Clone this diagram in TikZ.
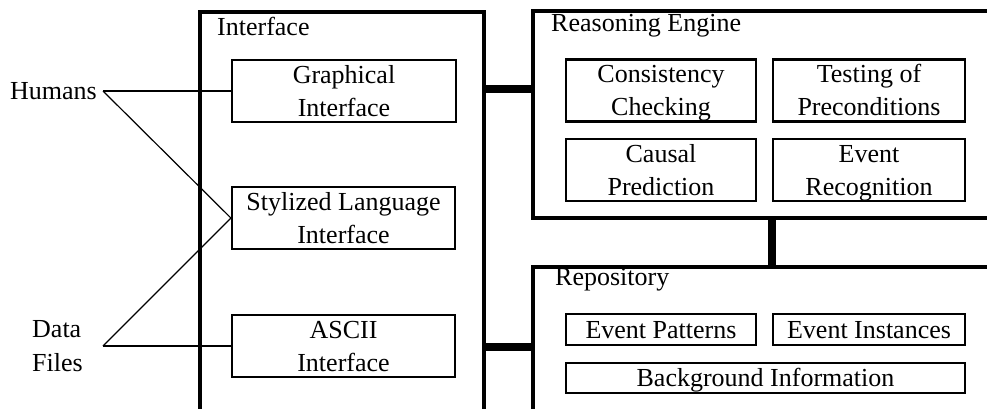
\documentclass[tikz,border=0pt]{standalone}
\usepackage{fontspec}
\setmainfont{Liberation Serif}
\newcommand{\lbl}{\fontsize{26}{33}\selectfont}
% struts that fix each line's height and depth inside the module boxes
\newcommand{\ls}{\rule[-6pt]{0pt}{29pt}}
\newcommand{\lsone}{\rule[-4.4pt]{0pt}{26.4pt}}
\begin{document}
\begin{tikzpicture}[x=1pt,y=-1pt,
  bigbox/.style={draw, line width=4.5pt, inner sep=0pt},
  inbox/.style={draw, line width=2.2pt, inner sep=0pt, align=center, font=\lbl},
  title/.style={anchor=base west, inner sep=0pt, font=\lbl},
  bar/.style={line width=8pt},
  link/.style={line width=2pt},
  slant/.style={line width=1.2pt}]
\clip (0,0) rectangle (987,408);
\fill[white] (0,0) rectangle (987,408);

% outer frames (they run past the right and lower edges)
\node[bigbox, minimum width=284, minimum height=420] (iface) at (342,222) {};
\node[bigbox, minimum width=480, minimum height=207] (reason) at (773,114.5) {};
\node[bigbox, minimum width=480, minimum height=180] (repo) at (773,357) {};

\node[title] at (217,35) {Interface};
\node[title] at (551,31) {Reasoning Engine};
\node[title] at (555,285) {Repository};

% interface modules
\node[inbox, minimum width=224, minimum height=62] (gi) at (344,91) {\ls Graphical\\\ls Interface};
\node[inbox, minimum width=223, minimum height=62] (sli) at (343.5,218) {\ls Stylized Language\\\ls Interface};
\node[inbox, minimum width=223, minimum height=62] (ascii) at (343.5,346) {\ls ASCII\\\ls Interface};

% reasoning modules
\node[inbox, minimum width=190, minimum height=62] (cc) at (661,90.5) {\ls Consistency\\\ls Checking};
\node[inbox, minimum width=192, minimum height=62] (tp) at (869,90.5) {\ls Testing of\\\ls Preconditions};
\node[inbox, minimum width=190, minimum height=62] (cp) at (661,170) {\ls Causal\\\ls Prediction};
\node[inbox, minimum width=192, minimum height=62] (er) at (869,170) {\ls Event\\\ls Recognition};

% repository contents
\node[inbox, minimum width=190, minimum height=31] (ep) at (661,329.5) {\lsone Event Patterns};
\node[inbox, minimum width=192, minimum height=31] (ei) at (869,329.5) {\lsone Event Instances};
\node[inbox, minimum width=399, minimum height=30] (bi) at (765.5,378) {\lsone Background Information};

% connections between the frames
\draw[bar] (iface.east |- 0,89) -- (reason.west |- 0,89);
\draw[bar] (iface.east |- 0,347) -- (repo.west |- 0,347);
\draw[bar] (reason.south -| 772,0) -- (repo.north -| 772,0);

% external users
\node[anchor=base west, inner sep=0pt, font=\lbl] (hum) at (10,99) {Humans};
\node[anchor=base west, inner sep=0pt, font=\fontsize{26}{34}\selectfont, align=left] (data) at (32,371) {Data\\Files};
\coordinate (hj) at (103,91);
\coordinate (dj) at (103,346);

\draw[link] (hj) -- (gi.west);
\draw[slant] (hj) -- (sli.west);
\draw[slant] (dj) -- (sli.west);
\draw[link] (dj) -- (ascii.west);
\end{tikzpicture}
\end{document}
